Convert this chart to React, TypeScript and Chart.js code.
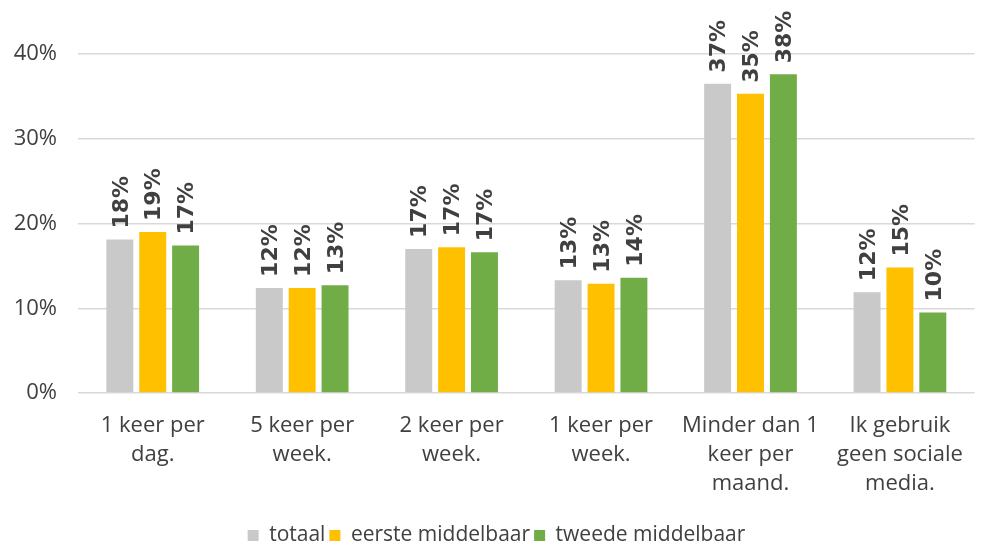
import React, { useEffect, useRef } from "react";
import { Chart, registerables } from "chart.js";

Chart.register(...registerables);

const categories: string[][] = [
  ["1 keer per", "dag."],
  ["5 keer per", "week."],
  ["2 keer per", "week."],
  ["1 keer per", "week."],
  ["Minder dan 1", "keer per", "maand."],
  ["Ik gebruik", "geen sociale", "media."],
];
const totaal = [18.1, 12.4, 17.0, 13.3, 36.5, 11.9];
const eerste = [19.0, 12.4, 17.2, 12.9, 35.3, 14.8];
const tweede = [17.4, 12.7, 16.6, 13.6, 37.6, 9.5];
const seriesNames = ["totaal", "eerste middelbaar", "tweede middelbaar"];
const yTicks = [0, 10, 20, 30, 40];

const FONT = "'Open Sans', sans-serif";
const TEXT = "#404040";

const labelPlugin = {
  id: "barLabels",
  afterDatasetsDraw(chart: any) {
    const ctx = chart.ctx;
    ctx.save();
    ctx.font = `bold 22px 'DejaVu Sans', sans-serif`;
    ctx.fillStyle = TEXT;
    chart.data.datasets.forEach((ds: any, di: number) => {
      const meta = chart.getDatasetMeta(di);
      meta.data.forEach((bar: any, i: number) => {
        const v = ds.data[i];
        ctx.save();
        ctx.translate(bar.x + 2, bar.y - 11);
        ctx.rotate(-Math.PI / 2);
        ctx.textAlign = "left";
        ctx.textBaseline = "middle";
        ctx.fillText(`${Math.round(v)}%`, 0, 0);
        ctx.restore();
      });
    });
    ctx.restore();
  },
};

export default function App() {
  const ref = useRef<HTMLCanvasElement>(null);
  useEffect(() => {
    document.body.style.margin = "0";
    const chart = new Chart(ref.current!, {
      type: "bar",
      data: {
        labels: categories,
        datasets: [
          { label: seriesNames[0], data: totaal, backgroundColor: "#C9C9C9" },
          { label: seriesNames[1], data: eerste, backgroundColor: "#FFC000" },
          { label: seriesNames[2], data: tweede, backgroundColor: "#70AD47" },
        ],
      },
      options: {
        animation: false,
        responsive: false,
        maintainAspectRatio: false,
        datasets: { bar: { barPercentage: 0.82, categoryPercentage: 0.66 } },
        layout: { padding: { top: 54, right: 2, left: 14, bottom: -10 } },
        plugins: {
          tooltip: { enabled: false },
          legend: {
            position: "bottom",
            labels: {
              boxWidth: 11,
              boxHeight: 11,
              padding: 4,
              color: TEXT,
              font: { family: FONT, size: 21 },
            },
          },
        },
        scales: {
          x: {
            grid: { display: false, drawTicks: false },
            border: { display: false },
            afterFit: (s: any) => {
              s.height = 128;
            },
            ticks: {
              color: TEXT,
              font: { family: FONT, size: 22, lineHeight: 1.32 },
              padding: 18,
              maxRotation: 0,
              autoSkip: false,
            },
          },
          y: {
            min: 0,
            max: 40,
            afterBuildTicks: (axis: any) => {
              axis.ticks = yTicks.map((v) => ({ value: v }));
            },
            afterFit: (s: any) => {
              s.width = 64;
            },
            grid: { color: "#D9D9D9", lineWidth: 1.5, drawTicks: false },
            border: { display: false },
            ticks: {
              color: TEXT,
              font: { family: FONT, size: 22 },
              padding: 21,
              callback: (v: any) => `${v}%`,
            },
          },
        },
      },
      plugins: [labelPlugin],
    });
    return () => chart.destroy();
  }, []);
  return (
    <div style={{ width: 981, height: 546 }}>
      <canvas ref={ref} width={981} height={546} style={{ display: "block" }} />
    </div>
  );
}
